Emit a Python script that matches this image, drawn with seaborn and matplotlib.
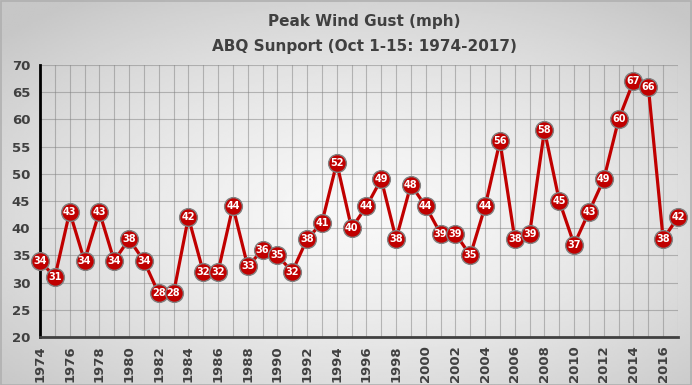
import numpy as np
import pandas as pd
import matplotlib
matplotlib.use("Agg")
import matplotlib.pyplot as plt
import seaborn as sns

years = list(range(1974, 2018))
gusts = [34, 31, 43, 34, 43, 34, 38, 34, 28, 28, 42, 32, 32, 44, 33, 36, 35, 32, 38, 41,
         52, 40, 44, 49, 38, 48, 44, 39, 39, 35, 44, 56, 38, 39, 58, 45, 37, 43, 49, 60,
         67, 66, 38, 42]
title_lines = ["Peak Wind Gust (mph)", "ABQ Sunport (Oct 1-15: 1974-2017)"]
y_ticks = list(range(20, 75, 5))
x_tick_labels = list(range(1974, 2018, 2))

df = pd.DataFrame({"year": years, "gust": gusts})

sns.set_theme(style="white")
plt.rcParams["font.family"] = ["DejaVu Sans"]

fig = plt.figure(figsize=(6.92, 3.85), dpi=100)

# radial gradient background
bg = fig.add_axes([0, 0, 1, 1], zorder=-10)
yy, xx = np.mgrid[-1:1:200j, -1:1:300j]
r = np.sqrt(((xx - 0.05) * 0.95) ** 2 + ((yy - 0.1) * 1.0) ** 2)
vals = 0.97 - 0.19 * np.clip(r / 1.35, 0, 1) ** 1.5
bg.imshow(vals, cmap="gray", vmin=0, vmax=1, aspect="auto", extent=[0, 1, 0, 1])
bg.set_axis_off()
fig.patches.append(plt.Rectangle((0.001, 0.001), 0.997, 0.996, transform=fig.transFigure,
                                 fill=False, edgecolor="#b0b0b0", linewidth=1.2))

ax = fig.add_axes([40 / 692, 48 / 385, 638 / 692, 272 / 385])
ax.patch.set_alpha(0)

sns.lineplot(data=df, x="year", y="gust", ax=ax, color="#C00000", linewidth=2.3,
             marker="o", markersize=12.8, markerfacecolor="#C00000",
             markeredgecolor="#808080", markeredgewidth=1.0, zorder=3, clip_on=False)

for x, v in zip(years, gusts):
    ax.text(x, v, str(v), ha="center", va="center", color="white", fontsize=7,
            fontweight="bold", zorder=4, clip_on=False)

ax.set_xlim(1974, 2017)
ax.set_ylim(20, 70)
ax.set_yticks(y_ticks)
ax.set_xticks(years, minor=True)
ax.set_xticks(x_tick_labels)
ax.set_xticklabels([str(y) for y in x_tick_labels], rotation=90, fontweight="bold",
                   color="#404040", fontsize=9.5)
ax.set_yticklabels([str(y) for y in y_ticks], fontweight="bold", color="#404040", fontsize=9.5)
ax.set_xlabel("")
ax.set_ylabel("")

ax.grid(True, which="major", axis="y", color="#808080", linewidth=0.8, alpha=0.5)
ax.grid(True, which="both", axis="x", color="#808080", linewidth=0.8, alpha=0.5)
ax.set_axisbelow(True)

for s in ["top", "right"]:
    ax.spines[s].set_visible(False)
ax.spines["left"].set_color("black")
ax.spines["left"].set_linewidth(2)
ax.spines["bottom"].set_color("#404040")
ax.spines["bottom"].set_linewidth(2)
ax.tick_params(axis="y", which="major", direction="out", length=5, width=2, color="black", pad=2)
ax.tick_params(axis="x", which="both", direction="out", length=4, width=2, color="#404040", pad=2)

fig.text(0.527, 0.945, title_lines[0], ha="center", va="center", fontsize=11,
         fontweight="bold", color="#404040")
fig.text(0.527, 0.878, title_lines[1], ha="center", va="center", fontsize=11,
         fontweight="bold", color="#404040")

fig.savefig("out.png", dpi=100)
